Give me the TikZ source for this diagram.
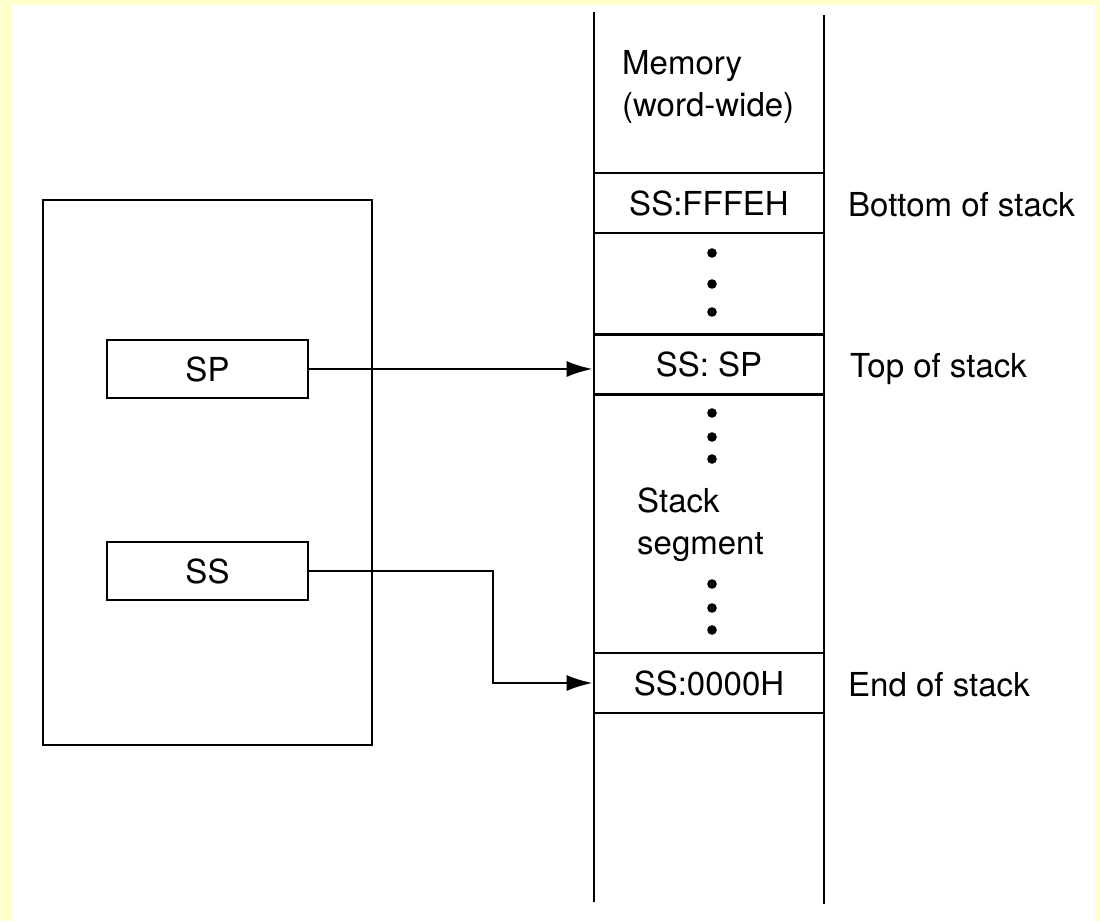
\documentclass[tikz,border=0pt]{standalone}
\usepackage{fontspec}
\setmainfont{TeX Gyre Heros}
\usetikzlibrary{positioning,arrows.meta}
\definecolor{pagebg}{RGB}{255,255,204}
\tikzset{
  reg/.style={draw,line width=2.6pt,minimum width=201pt,minimum height=58pt,inner sep=0pt,text height=24pt,text depth=0pt},
  cell/.style={draw,line width=2.6pt,minimum width=230pt,minimum height=60pt,inner sep=0pt,text height=24pt,text depth=0pt},
  lbl/.style={anchor=base west,inner sep=0pt},
  ptr/.style={line width=2.6pt,-{Latex[length=26pt,width=16pt]}},
}

\begin{document}
\begin{tikzpicture}[x=1pt,y=-1pt,font=\fontsize{33}{42}\selectfont]
  \fill[pagebg] (0,0) rectangle (1100,921);
  \fill[white] (12,5) rectangle (1095,921);
  \useasboundingbox (0,0) rectangle (1100,921);

  % CPU side with the two registers
  \node[draw,line width=2pt,minimum width=329pt,minimum height=545pt] (cpu) at (207.5,472.5) {};
  \node[reg] (sp) at (207.5,369) {SP};
  \node[reg] (ss) at (207.5,571) {SS};

  % memory column
  \draw[line width=2.6pt] (594,12) -- (594,902);
  \draw[line width=2.6pt] (824,15) -- (824,904);
  \node[align=left,anchor=north west,inner sep=0pt] (memlbl) at (622,50) {Memory\\(word-wide)};
  \node[cell] (mbot) at (709,203) {SS:FFFEH};
  \node[cell] (mtop) at (709,364.5) {SS: SP};
  \node[cell] (mend) at (709,683) {SS:0000H};
  \node[align=left,anchor=north west,inner sep=0pt] (seglbl) at (637,488) {Stack\\segment};
  \foreach \y in {253,284,312,413,437,459,584,608,630}
    \fill (712,\y) circle (4.8pt);

  \node[lbl] (lbot) at (848,216) {Bottom of stack};
  \node[lbl] (ltop) at (850,377) {Top of stack};
  \node[lbl] (lend) at (848,696) {End of stack};

  % pointers
  \draw[ptr] (sp.east) -- (sp.east -| mtop.west);
  \coordinate (bend) at (493,0);
  \draw[ptr] (ss.east) -- (ss.east -| bend) |- (mend.west);
\end{tikzpicture}
\end{document}
